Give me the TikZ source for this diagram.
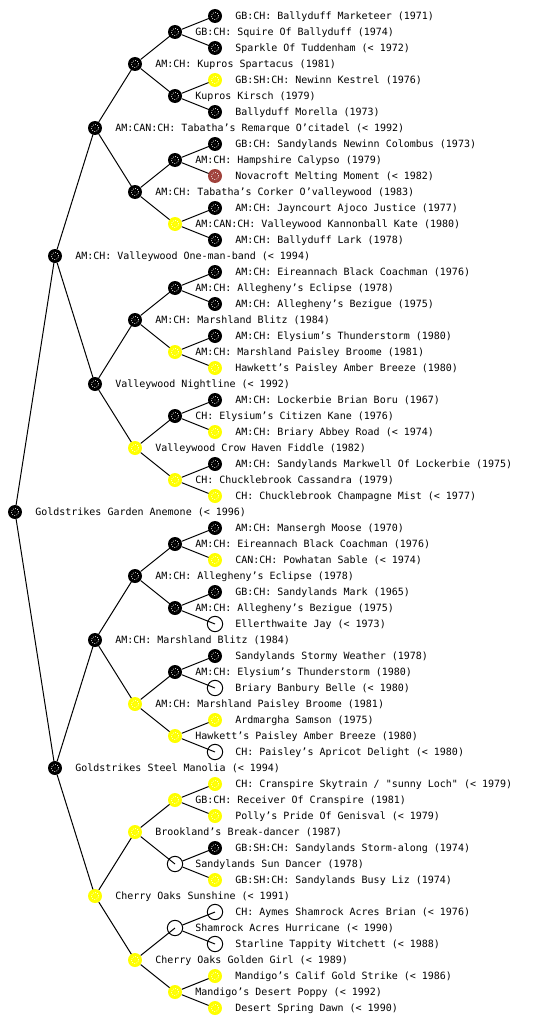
\documentclass[tikz,border=0pt]{standalone}
\usepackage{fontspec}
\newfontfamily\pedfont{DejaVu Sans Mono}
\definecolor{pedyellow}{RGB}{255,255,0}
\definecolor{pedred}{RGB}{160,66,60}
\pgfdeclarelayer{bg}
\pgfsetlayers{bg,main}
\tikzset{
  pn/.style={circle, inner sep=0pt, minimum size=10.5pt},
  speck/.style={path picture={\draw[white, line width=0.5pt, dash pattern=on 0.6pt off 1.1pt]
      (path picture bounding box.center) circle (2.7pt);
      \fill[white] (path picture bounding box.center) circle (0.35pt);}},
  blk/.style={pn, fill=black, speck},
  yel/.style={pn, fill=pedyellow, speck},
  rdn/.style={pn, fill=pedred, speck},
  opn/.style={pn, draw=black, line width=0.75pt, minimum size=11.5pt},
  lbl/.style={anchor=base west, inner sep=0pt, font=\pedfont\fontsize{7.5pt}{9pt}\selectfont},
  conn/.style={draw=black, line width=0.75pt},
}
\newcommand\pedn[5]{%
  \node[#4] (n#1) at (#2,#3) {};
  \node[lbl] (l#1) at (#2+20,#3+3.8) {#5};
}
\begin{document}
\begin{tikzpicture}[x=0.75pt,y=-0.75pt]
\useasboundingbox (0,0) rectangle (560,1024);
% generation 0
\pedn{1}{15}{512}{blk}{Goldstrikes Garden Anemone (< 1996)}
% generation 1
\pedn{2}{55}{256}{blk}{AM:CH: Valleywood One-man-band (< 1994)}
\pedn{3}{55}{768}{blk}{Goldstrikes Steel Manolia (< 1994)}
% generation 2
\pedn{4}{95}{128}{blk}{AM:CAN:CH: Tabatha’s Remarque O’citadel (< 1992)}
\pedn{5}{95}{384}{blk}{Valleywood Nightline (< 1992)}
\pedn{6}{95}{640}{blk}{AM:CH: Marshland Blitz (1984)}
\pedn{7}{95}{896}{yel}{Cherry Oaks Sunshine (< 1991)}
% generation 3
\pedn{8}{135}{64}{blk}{AM:CH: Kupros Spartacus (1981)}
\pedn{9}{135}{192}{blk}{AM:CH: Tabatha’s Corker O’valleywood (1983)}
\pedn{10}{135}{320}{blk}{AM:CH: Marshland Blitz (1984)}
\pedn{11}{135}{448}{yel}{Valleywood Crow Haven Fiddle (1982)}
\pedn{12}{135}{576}{blk}{AM:CH: Allegheny’s Eclipse (1978)}
\pedn{13}{135}{704}{yel}{AM:CH: Marshland Paisley Broome (1981)}
\pedn{14}{135}{832}{yel}{Brookland’s Break-dancer (1987)}
\pedn{15}{135}{960}{yel}{Cherry Oaks Golden Girl (< 1989)}
% generation 4
\pedn{16}{175}{32}{blk}{GB:CH: Squire Of Ballyduff (1974)}
\pedn{17}{175}{96}{blk}{Kupros Kirsch (1979)}
\pedn{18}{175}{160}{blk}{AM:CH: Hampshire Calypso (1979)}
\pedn{19}{175}{224}{yel}{AM:CAN:CH: Valleywood Kannonball Kate (1980)}
\pedn{20}{175}{288}{blk}{AM:CH: Allegheny’s Eclipse (1978)}
\pedn{21}{175}{352}{yel}{AM:CH: Marshland Paisley Broome (1981)}
\pedn{22}{175}{416}{blk}{CH: Elysium’s Citizen Kane (1976)}
\pedn{23}{175}{480}{yel}{CH: Chucklebrook Cassandra (1979)}
\pedn{24}{175}{544}{blk}{AM:CH: Eireannach Black Coachman (1976)}
\pedn{25}{175}{608}{blk}{AM:CH: Allegheny’s Bezigue (1975)}
\pedn{26}{175}{672}{blk}{AM:CH: Elysium’s Thunderstorm (1980)}
\pedn{27}{175}{736}{yel}{Hawkett’s Paisley Amber Breeze (1980)}
\pedn{28}{175}{800}{yel}{GB:CH: Receiver Of Cranspire (1981)}
\pedn{29}{175}{864}{opn}{Sandylands Sun Dancer (1978)}
\pedn{30}{175}{928}{opn}{Shamrock Acres Hurricane (< 1990)}
\pedn{31}{175}{992}{yel}{Mandigo’s Desert Poppy (< 1992)}
% generation 5
\pedn{32}{215}{16}{blk}{GB:CH: Ballyduff Marketeer (1971)}
\pedn{33}{215}{48}{blk}{Sparkle Of Tuddenham (< 1972)}
\pedn{34}{215}{80}{yel}{GB:SH:CH: Newinn Kestrel (1976)}
\pedn{35}{215}{112}{blk}{Ballyduff Morella (1973)}
\pedn{36}{215}{144}{blk}{GB:CH: Sandylands Newinn Colombus (1973)}
\pedn{37}{215}{176}{rdn}{Novacroft Melting Moment (< 1982)}
\pedn{38}{215}{208}{blk}{AM:CH: Jayncourt Ajoco Justice (1977)}
\pedn{39}{215}{240}{blk}{AM:CH: Ballyduff Lark (1978)}
\pedn{40}{215}{272}{blk}{AM:CH: Eireannach Black Coachman (1976)}
\pedn{41}{215}{304}{blk}{AM:CH: Allegheny’s Bezigue (1975)}
\pedn{42}{215}{336}{blk}{AM:CH: Elysium’s Thunderstorm (1980)}
\pedn{43}{215}{368}{yel}{Hawkett’s Paisley Amber Breeze (1980)}
\pedn{44}{215}{400}{blk}{AM:CH: Lockerbie Brian Boru (1967)}
\pedn{45}{215}{432}{yel}{AM:CH: Briary Abbey Road (< 1974)}
\pedn{46}{215}{464}{blk}{AM:CH: Sandylands Markwell Of Lockerbie (1975)}
\pedn{47}{215}{496}{yel}{CH: Chucklebrook Champagne Mist (< 1977)}
\pedn{48}{215}{528}{blk}{AM:CH: Mansergh Moose (1970)}
\pedn{49}{215}{560}{yel}{CAN:CH: Powhatan Sable (< 1974)}
\pedn{50}{215}{592}{blk}{GB:CH: Sandylands Mark (1965)}
\pedn{51}{215}{624}{opn}{Ellerthwaite Jay (< 1973)}
\pedn{52}{215}{656}{blk}{Sandylands Stormy Weather (1978)}
\pedn{53}{215}{688}{opn}{Briary Banbury Belle (< 1980)}
\pedn{54}{215}{720}{yel}{Ardmargha Samson (1975)}
\pedn{55}{215}{752}{opn}{CH: Paisley’s Apricot Delight (< 1980)}
\pedn{56}{215}{784}{yel}{CH: Cranspire Skytrain / "sunny Loch" (< 1979)}
\pedn{57}{215}{816}{yel}{Polly’s Pride Of Genisval (< 1979)}
\pedn{58}{215}{848}{blk}{GB:SH:CH: Sandylands Storm-along (1974)}
\pedn{59}{215}{880}{yel}{GB:SH:CH: Sandylands Busy Liz (1974)}
\pedn{60}{215}{912}{opn}{CH: Aymes Shamrock Acres Brian (< 1976)}
\pedn{61}{215}{944}{opn}{Starline Tappity Witchett (< 1988)}
\pedn{62}{215}{976}{yel}{Mandigo’s Calif Gold Strike (< 1986)}
\pedn{63}{215}{1008}{yel}{Desert Spring Dawn (< 1990)}
% connectors: parent -> child
\begin{pgfonlayer}{bg}
\foreach \k in {2,...,63}{
  \pgfmathtruncatemacro\p{\k/2}
  \draw[conn] (n\p) -- (n\k.center);
}
\end{pgfonlayer}
\end{tikzpicture}
\end{document}
